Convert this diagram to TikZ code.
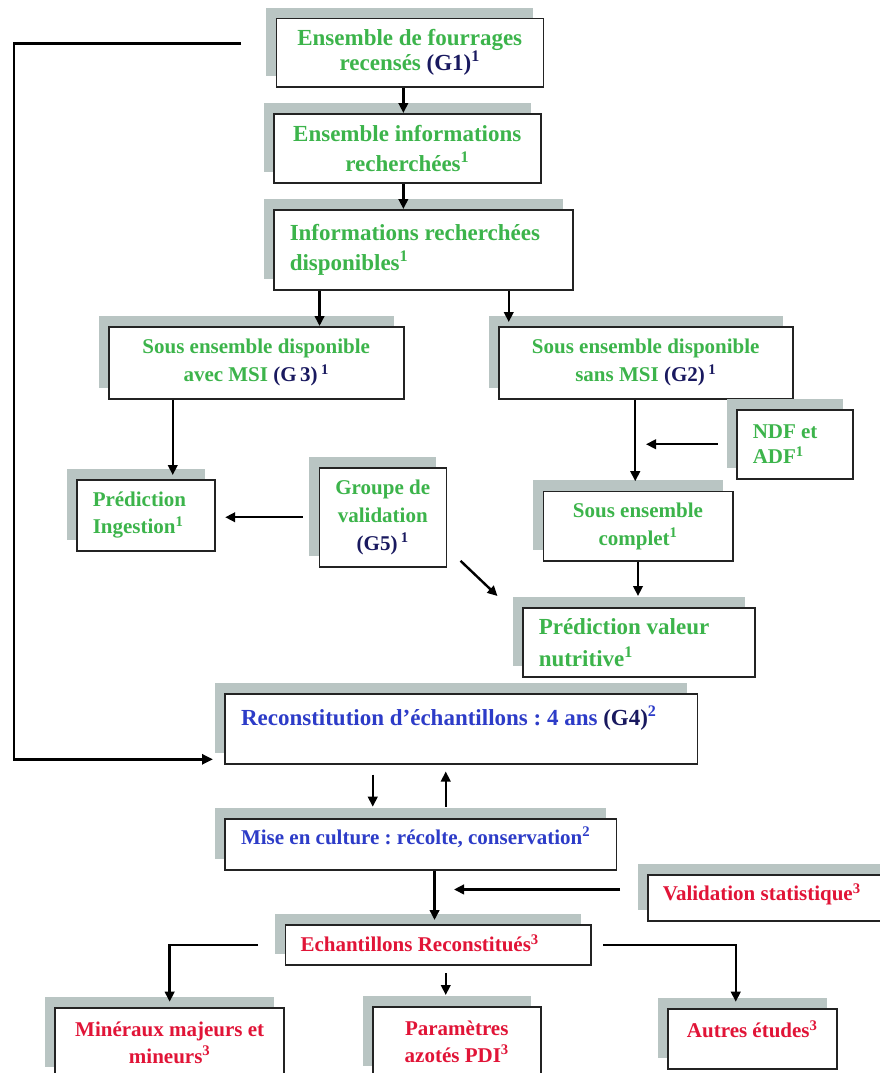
\documentclass[tikz,border=0pt]{standalone}
\usepackage{fontspec}
\setmainfont{Liberation Serif}
\usetikzlibrary{arrows.meta,shadows}
\definecolor{vert}{RGB}{60,180,75}
\definecolor{marine}{RGB}{25,25,95}
\definecolor{bleu}{RGB}{45,60,200}
\definecolor{rouge}{RGB}{225,20,55}
\definecolor{ombre}{RGB}{185,197,195}
\definecolor{bord}{RGB}{35,35,35}
\frenchspacing
\begin{document}
\begin{tikzpicture}[x=1pt, y=-1pt,
    boite/.style 2 args={draw=bord, line width=1.5pt, fill=white, anchor=north west,
      minimum width=#1, minimum height=#2, inner sep=0pt, align=center,
      drop shadow={shadow xshift=-10pt, shadow yshift=11pt, fill=ombre, opacity=1}},
    gauche/.style={align=flush left, inner xsep=16pt, text width=#1},
    petit/.style={font=\fontsize{21}{#1}\selectfont\bfseries},
    grand/.style={font=\fontsize{23}{#1}\selectfont\bfseries},
    fleche/.style={line width=2.4pt, -{Triangle[length=10pt,width=9.5pt]}},
    retour/.style={line width=2.8pt, line join=miter, -{Triangle[length=11pt,width=10pt]}}]
  \useasboundingbox (0,0) rectangle (880,1073);

  % ensemble des fourrages
  \node[boite={267pt}{68pt}, grand=25, text=vert] (g1) at (275.5,18)
    {Ensemble de fourrages\\recensés \textcolor{marine}{(G1)\textsuperscript{1}}};
  \node[boite={267pt}{69pt}, grand=30, text=vert] (info) at (273,113)
    {Ensemble informations\\recherchées\textsuperscript{1}};
  \node[boite={299pt}{80pt}, grand=30, gauche=267pt, text=vert] (dispo) at (273,209)
    {Informations recherchées\\disponibles\textsuperscript{1}};

  % sous ensembles
  \node[boite={295pt}{72pt}, petit=28, text=vert] (g3) at (108,326)
    {Sous ensemble disponible\\avec MSI \textcolor{marine}{(G\,3)\,\textsuperscript{1}}};
  \node[boite={294pt}{72pt}, petit=28, text=vert] (g2) at (498,326)
    {Sous ensemble disponible\\sans MSI \textcolor{marine}{(G2)\,\textsuperscript{1}}};
  \node[boite={116pt}{69pt}, petit=25, gauche=84pt, text=vert] (ndf) at (736,409)
    {NDF et\\ADF\textsuperscript{1}};
  \node[boite={138pt}{71pt}, petit=27, gauche=106pt, text=vert] (ingest) at (76,479)
    {Prédiction\\Ingestion\textsuperscript{1}};
  \node[boite={127pt}{99pt}, petit=28, text=vert] (groupe) at (318.5,467)
    {Groupe de\\validation\\\textcolor{marine}{(G5)\,\textsuperscript{1}}};
  \node[boite={189.5pt}{69.3pt}, petit=28, text=vert] (complet) at (542.5,490.7)
    {Sous ensemble\\complet\textsuperscript{1}};
  \node[boite={232pt}{69pt}, grand=32, gauche=200pt, text=vert] (nutri) at (522,607)
    {Prédiction valeur\\nutritive\textsuperscript{1}};

  % reconstitution
  \node[boite={472.5pt}{70pt}, grand=30, gauche=440pt, text=bleu,
    text height=17pt, text depth=24pt] (g4) at (224,693)
    {Reconstitution d’échantillons : 4 ans \textcolor{marine}{(G4)}\textsuperscript{2}};
  \node[boite={391.6pt}{51pt}, petit=28, gauche=359pt, text=bleu,
    text height=16pt, text depth=16pt] (mise) at (224,818)
    {Mise en culture : récolte, conservation\textsuperscript{2}};
  \node[boite={253pt}{46pt}, petit=28, gauche=223pt, text=rouge, inner xsep=15pt,
    text height=16pt, text depth=10pt] (valid) at (647,874)
    {Validation statistique\textsuperscript{3}};
  \node[boite={305.5pt}{40pt}, petit=28, gauche=275pt, text=rouge, inner xsep=15pt,
    text height=16pt, text depth=2pt] (echant) at (284.5,924)
    {Echantillons Reconstitués\textsuperscript{3}};

  % analyses
  \node[boite={229pt}{70pt}, petit=27, text=rouge] (mineraux) at (54.4,1007)
    {Minéraux majeurs et\\mineurs\textsuperscript{3}};
  \node[boite={168pt}{70pt}, petit=27, text=rouge] (param) at (372,1006)
    {Paramètres\\azotés PDI\textsuperscript{3}};
  \node[boite={169pt}{60pt}, petit=28, text=rouge,
    text height=16pt, text depth=18pt] (autres) at (667,1008)
    {Autres études\textsuperscript{3}};

  % fleches
  \draw[fleche] ([xshift=-6.4pt]g1.south) -- ([xshift=-6.4pt]g1.south |- info.north);
  \draw[fleche] ([xshift=-3.9pt]info.south) -- ([xshift=-3.9pt]info.south |- dispo.north);
  \draw[fleche] ([xshift=-103.7pt]dispo.south) -- ([xshift=-103.7pt]dispo.south |- g3.north);
  \draw[fleche, shorten >=4pt] ([xshift=85.5pt]dispo.south) -- ([xshift=85.5pt]dispo.south |- g2.north);
  \draw[fleche, shorten >=4pt] ([xshift=-83.5pt]g3.south) -- ([xshift=-83.5pt]g3.south |- ingest.north);
  \draw[fleche, shorten <=16pt, shorten >=9.7pt] (groupe.west) -- (groupe.west -| ingest.east);
  \draw[fleche, shorten >=9.5pt] ([xshift=-10.5pt]g2.south) -- ([xshift=-10.5pt]g2.south |- complet.north);
  \draw[fleche, shorten <=18.4pt, shorten >=8pt] (ndf.west) -- (ndf.west -| complet.north);
  \draw[fleche, shorten >=11pt] (complet.south) -- (complet.south |- nutri.north);
  \draw[fleche] ([shift={(13.5,-6.7)}]groupe.south east) -- ([shift={(-24.5,-11)}]nutri.north west);

  % retour vers la reconstitution
  \coordinate (fb) at (241,43.3);
  \coordinate (fbturn) at (14,759.3);
  \draw[retour, shorten >=11pt] (fb) -- (fb -| fbturn) -- (fbturn) -- (fbturn -| g4.west);

  \draw[fleche, shorten <=10pt, shorten >=11.3pt] ([xshift=-88.25pt]g4.south) -- ([xshift=-88.25pt]g4.south |- mise.north);
  \draw[fleche, shorten <=11.3pt, shorten >=7pt] ([xshift=-15.25pt]g4.south |- mise.north) -- ([xshift=-15.25pt]g4.south);
  \draw[fleche, shorten >=4pt] ([xshift=14pt]mise.south) -- ([xshift=14pt]mise.south |- echant.north);
  \draw[fleche, shorten <=27pt, shorten >=16pt] ([yshift=8.3pt]valid.west) -- ([yshift=8.3pt]valid.west -| echant.north);
  \draw[fleche, shorten <=26.5pt, shorten >=5.3pt] (echant.west) -| (mineraux.north);
  \draw[fleche, shorten <=11.6pt, shorten >=6.3pt] (echant.east) -| ([xshift=-16.5pt]autres.north);
  \draw[fleche, shorten <=7.7pt, shorten >=11pt] ([xshift=7.75pt]echant.south) -- ([xshift=7.75pt]echant.south |- param.north);
\end{tikzpicture}
\end{document}
